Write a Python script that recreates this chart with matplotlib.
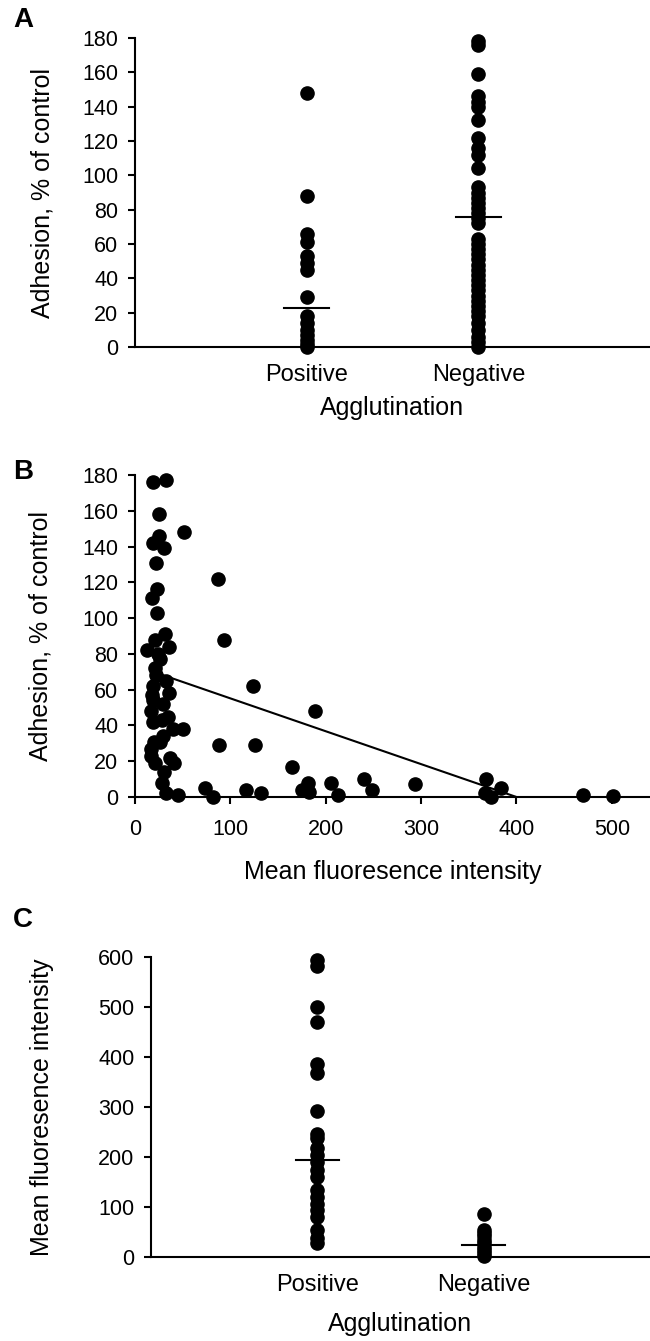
import matplotlib.pyplot as plt

plt.rcParams['font.family'] = ['Liberation Sans', 'DejaVu Sans']

# Panel A: adhesion by agglutination
categories = ['Positive', 'Negative']
adh_pos = [148, 88, 66, 61, 53, 49, 45, 29, 18, 14, 10, 7, 4, 2, 0]
adh_neg = [178, 176, 159, 146, 143, 140, 132, 122, 116, 112, 104, 93, 90, 87, 84,
           81, 78, 75, 72, 63, 60, 57, 54, 51, 48, 45, 42, 39, 36, 33, 30, 27,
           24, 21, 18, 14, 10, 6, 3, 0]
adh_center = [23, 76]

# Panel B: adhesion vs mean fluorescence intensity
mfi_b = [19, 32, 25, 51, 19, 25, 30, 22, 87, 23, 18, 23, 93, 13, 21, 31, 36,
         21, 26, 33, 19, 124, 19, 36, 29, 17, 189, 35, 19, 40, 50, 20, 26, 88,
         126, 17, 17, 21, 37, 41, 30, 28, 32, 45, 73, 82, 116, 132, 165, 175,
         181, 182, 206, 213, 240, 248, 294, 368, 367, 373, 384, 470, 501,
         24, 28, 22, 29, 18]
adh_b = [176, 177, 158, 148, 142, 146, 139, 131, 122, 116, 111, 103, 88, 82,
         88, 91, 84, 72, 77, 65, 62, 62, 54, 58, 52, 48, 48, 45, 42, 38, 38,
         31, 31, 29, 29, 27, 23, 19, 22, 19, 14, 8, 2, 1, 5, 0, 4, 2, 17, 4,
         8, 3, 8, 1, 10, 4, 7, 10, 2, 0, 5, 1, 0.5,
         80, 43, 68, 34, 57]
fit_x = [30, 400]
fit_y = [68, 0]

# Panel C: MFI by agglutination
mfi_pos = [594, 583, 501, 471, 387, 369, 293, 247, 238, 218, 204, 190, 174,
           160, 134, 121, 107, 94, 81, 54, 38, 28]
mfi_neg = [86, 55, 48, 42, 35, 28, 21, 14, 8, 3]
mfi_center = [194, 24]

W, H = 650, 1341
fig = plt.figure(figsize=(W / 100, H / 100), dpi=100)


def frac(left, top, right, bottom):
    return [left / W, 1 - bottom / H, (right - left) / W, (bottom - top) / H]


ax_a = fig.add_axes(frac(135, 38, 650, 347))
ax_b = fig.add_axes(frac(135, 475, 650, 797))
ax_c = fig.add_axes(frac(151, 957, 650, 1257))

dot = dict(ls='none', marker='o', ms=9.5, color='black', clip_on=False, zorder=3)
tick_fs = 15.5
label_fs = 18


def style(ax):
    for s in ['top', 'right']:
        ax.spines[s].set_visible(False)
    for s in ['left', 'bottom']:
        ax.spines[s].set_linewidth(1.5)
    ax.tick_params(axis='y', direction='out', length=5, width=1.5,
                   labelsize=tick_fs, pad=7)


def strip(ax, groups, centers, ylim, yticks):
    for i, vals in enumerate(groups):
        ax.plot([i + 1] * len(vals), vals, **dot)
        ax.plot([i + 0.87, i + 1.13], [centers[i]] * 2, color='black',
                lw=1.5, zorder=4, clip_on=False)
    ax.set_xlim(0, 3)
    ax.set_ylim(*ylim)
    ax.set_yticks(yticks)
    ax.set_xticks([1, 2])
    ax.set_xticklabels(categories)
    ax.tick_params(axis='x', length=0, labelsize=17, pad=12)
    ax.set_xlabel('Agglutination', fontsize=label_fs)


# A
style(ax_a)
strip(ax_a, [adh_pos, adh_neg], adh_center, (0, 180), range(0, 181, 20))
ax_a.set_ylabel('Adhesion, % of control', fontsize=label_fs)
ax_a.yaxis.set_label_coords(-0.157, 0.5)
ax_a.xaxis.set_label_coords(0.5, -0.16)

# B
style(ax_b)
ax_b.plot(mfi_b, adh_b, **dot)
ax_b.plot(fit_x, fit_y, color='black', lw=1.5, zorder=2)
ax_b.set_xlim(0, 540)
ax_b.set_ylim(0, 180)
ax_b.set_yticks(range(0, 181, 20))
ax_b.set_xticks(range(0, 501, 100))
ax_b.tick_params(axis='x', direction='out', length=5, width=1.5,
                 labelsize=tick_fs, pad=11)
ax_b.set_ylabel('Adhesion, % of control', fontsize=label_fs)
ax_b.set_xlabel('Mean fluoresence intensity', fontsize=label_fs)
ax_b.yaxis.set_label_coords(-0.161, 0.5)
ax_b.xaxis.set_label_coords(0.5, -0.195)

# C
style(ax_c)
strip(ax_c, [mfi_pos, mfi_neg], mfi_center, (0, 600), range(0, 601, 100))
ax_c.set_ylabel('Mean fluoresence intensity', fontsize=label_fs)
ax_c.yaxis.set_label_coords(-0.194, 0.5)
ax_c.xaxis.set_label_coords(0.5, -0.185)

for letter, y in [('A', 20), ('B', 472), ('C', 920)]:
    fig.text(23 / W, 1 - y / H, letter, fontsize=20, fontweight='bold',
             ha='center', va='center')

fig.savefig('out.png', dpi=100, facecolor='white')
